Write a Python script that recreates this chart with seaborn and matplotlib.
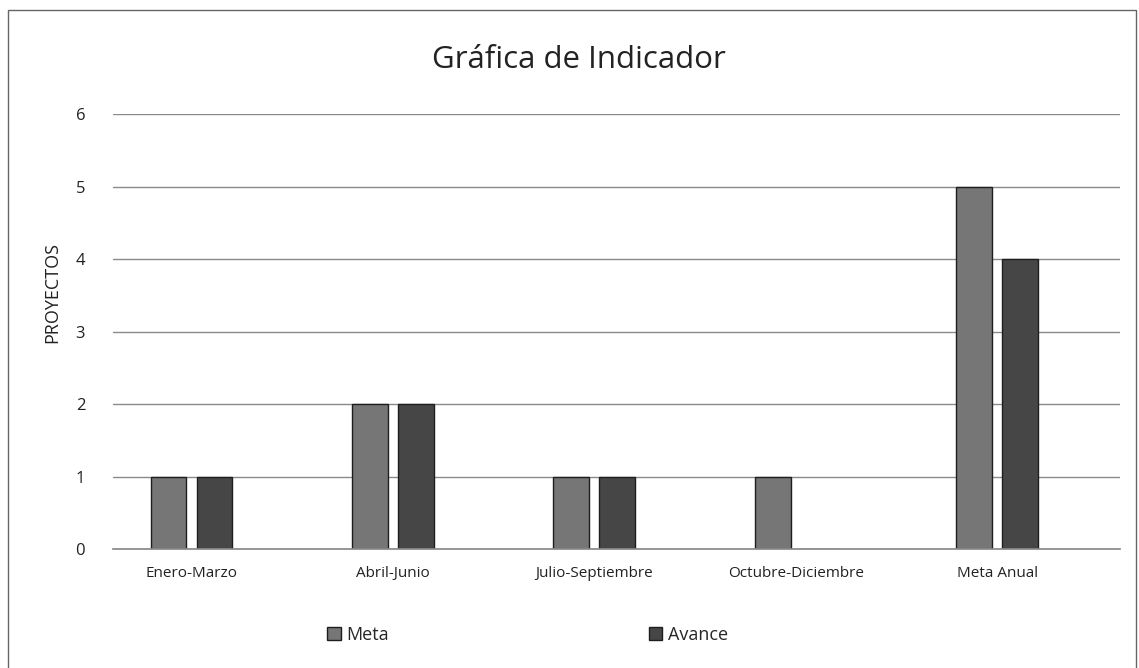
import pandas as pd
import matplotlib.pyplot as plt
import matplotlib.patches as mpatches
import seaborn as sns

# datos del indicador
periodos = ["Enero-Marzo", "Abril-Junio", "Julio-Septiembre", "Octubre-Diciembre", "Meta Anual"]
meta = [1, 2, 1, 1, 5]
avance = [1, 2, 1, 0, 4]
series = ["Meta", "Avance"]
colores = {"Meta": "#767676", "Avance": "#464646"}

df = pd.DataFrame({
    "periodo": periodos * 2,
    "serie": ["Meta"] * len(periodos) + ["Avance"] * len(periodos),
    "valor": meta + avance,
})

sns.set_theme(style="white")
plt.rcParams["font.family"] = ["Open Sans", "DejaVu Sans"]

fig = plt.figure(figsize=(11.39, 6.68), dpi=100)
ax = fig.add_axes([0.0992, 0.178, 0.8841, 0.651])

sns.barplot(
    data=df, x="periodo", y="valor", hue="serie", order=periodos,
    hue_order=series, palette=colores, width=0.456, gap=0.22,
    edgecolor="#1e1e1e", linewidth=1.0, ax=ax, legend=False,
)

ax.set_ylim(0, 6)
ax.set_xlim(-0.39, 4.61)
ax.set_yticks(range(0, 7))
ax.yaxis.grid(True, color="#8a8a8a", linewidth=1.0)
ax.set_axisbelow(True)
for s in ["top", "right", "left"]:
    ax.spines[s].set_visible(False)
ax.spines["bottom"].set_color("#8a8a8a")
ax.tick_params(axis="y", length=0, pad=20, labelsize=12, colors="#222222")
ax.tick_params(axis="x", length=0, pad=12, labelsize=11, colors="#222222")
ax.set_xlabel("")
ax.set_ylabel("PROYECTOS", fontsize=13, color="#222222")
ax.yaxis.set_label_coords(-0.051, 0.59)

fig.text(0.508, 0.91, "Gráfica de Indicador", ha="center", va="center",
         fontsize=22.5, color="#222222")

handles = [mpatches.Patch(facecolor=colores[s], edgecolor="#1e1e1e", label=s) for s in series]
fig.legend(handles=handles, loc="center", bbox_to_anchor=(0.463, 0.05), ncol=2,
           frameon=False, fontsize=13, handlelength=0.75, handleheight=0.75,
           handletextpad=0.3, columnspacing=14.4)

# marco del grafico
fig.patches.append(mpatches.Rectangle((0.007, -0.01), 0.99, 0.995, transform=fig.transFigure,
                                      fill=False, edgecolor="#666666", linewidth=1.0))

fig.savefig("out.png", dpi=100)
